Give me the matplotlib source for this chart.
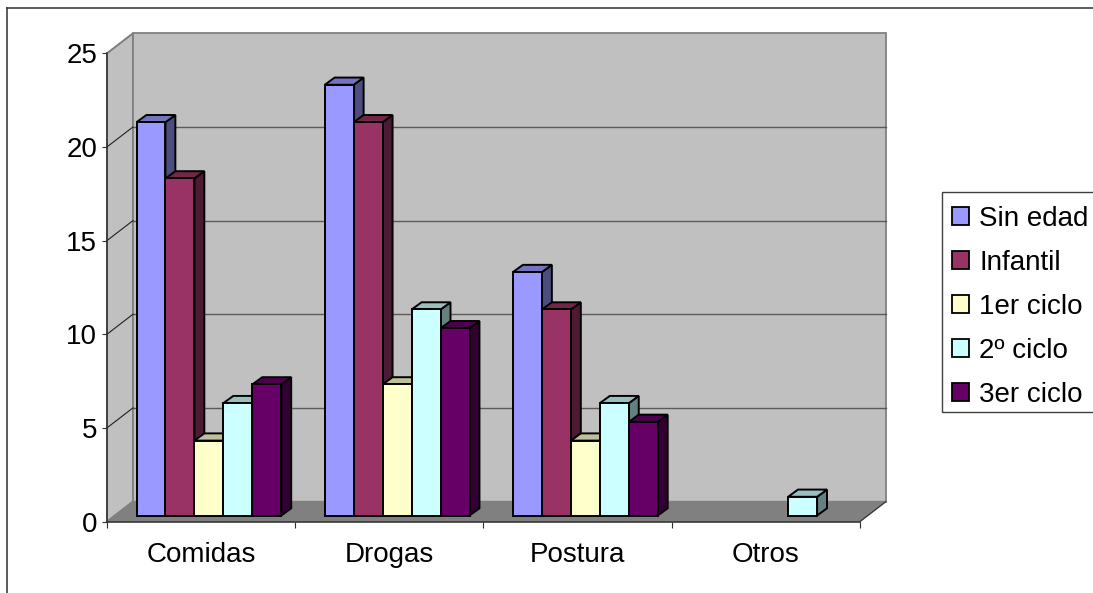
import matplotlib
matplotlib.use("Agg")
import matplotlib.pyplot as plt
from matplotlib.patches import Polygon, Patch, Rectangle
from matplotlib.lines import Line2D

categories = ["Comidas", "Drogas", "Postura", "Otros"]
series_names = ["Sin edad", "Infantil", "1er ciclo", "2º ciclo", "3er ciclo"]
sin_edad = [21, 23, 13, 0]
infantil = [18, 21, 11, 0]
primer_ciclo = [4, 7, 4, 0]
segundo_ciclo = [6, 11, 6, 1]
tercer_ciclo = [7, 10, 5, 0]
series = [sin_edad, infantil, primer_ciclo, segundo_ciclo, tercer_ciclo]
front_colors = ["#9999FF", "#993366", "#FFFFCC", "#CCFFFF", "#660066"]
top_colors = ["#7373BF", "#732645", "#BFBF99", "#99BFBF", "#4D004D"]
side_colors = ["#4D4D80", "#4D1A33", "#808066", "#668080", "#330033"]
y_ticks = [0, 5, 10, 15, 20, 25]

W, H = 1093, 593
FS = 20
plt.rcParams["font.family"] = ["Liberation Sans", "DejaVu Sans"]
fig = plt.figure(figsize=(W / 100, H / 100), dpi=100, facecolor="white")

# Front plane of the pseudo-3D plot, in pixels
L, R, T, B = 107, 860, 53.3, 521.5
ax = fig.add_axes([L / W, 1 - B / H, (R - L) / W, (B - T) / H])
ax.set_xlim(0, len(categories))
ax.set_ylim(0, 25)
ax.patch.set_visible(False)

unit_x = (R - L) / len(categories)
unit_y = (B - T) / 25
DX = 26 / unit_x   # full depth in data units
DY = 20 / unit_y


def poly(pts, fc, ec, lw, z):
    ax.add_patch(Polygon(pts, closed=True, facecolor=fc, edgecolor=ec, linewidth=lw,
                         joinstyle="miter", clip_on=False, zorder=z))


n_cat = len(categories)
# Walls and floor
poly([(0, 0), (DX, DY), (DX, 25 + DY), (0, 25)], "#C0C0C0", "#808080", 1.3, 1)
poly([(DX, DY), (n_cat + DX, DY), (n_cat + DX, 25 + DY), (DX, 25 + DY)], "#C0C0C0", "#808080", 1.3, 1)
poly([(0, 0), (DX, DY), (n_cat + DX, DY), (n_cat, 0)], "#808080", "#808080", 1.0, 1)

# Gridlines
for v in y_ticks[1:-1]:
    ax.plot([DX, n_cat + DX], [v + DY, v + DY], color="#5A5A5A", lw=1.0, clip_on=False, zorder=2)
    ax.plot([0, DX], [v, v + DY], color="#202020", lw=0.8, clip_on=False, zorder=2)
ax.plot([0, DX], [25, 25 + DY], color="#808080", lw=1.1, clip_on=False, zorder=2)
ax.plot([n_cat, n_cat + DX], [0, DY], color="#303030", lw=0.8, clip_on=False, zorder=2)

# Bars
n_ser = len(series)
bar_w = 1 / (n_ser + 1.5)
gap = 0.75 * bar_w
off_x, off_y = 0.3 * DX, 0.3 * DY
dep_x, dep_y = 0.38 * DX, 0.36 * DY
EDGE = 1.4
z = 3
for c in range(n_cat):
    for s in range(n_ser):
        v = series[s][c]
        if v <= 0:
            continue
        x0 = c + off_x + gap + s * bar_w
        x1 = x0 + bar_w
        y0 = off_y
        y1 = off_y + v
        poly([(x1, y0), (x1 + dep_x, y0 + dep_y), (x1 + dep_x, y1 + dep_y), (x1, y1)],
             side_colors[s], "black", EDGE, z)
        poly([(x0, y1), (x0 + dep_x, y1 + dep_y), (x1 + dep_x, y1 + dep_y), (x1, y1)],
             top_colors[s], "black", EDGE, z)
        poly([(x0, y0), (x1, y0), (x1, y1), (x0, y1)], front_colors[s], "black", EDGE, z)
        z += 1

# Axes
for sp in ("top", "right"):
    ax.spines[sp].set_visible(False)
for sp in ("left", "bottom"):
    ax.spines[sp].set_color("#303030")
    ax.spines[sp].set_linewidth(1.1)
    ax.spines[sp].set_zorder(2.5)
ax.set_yticks(y_ticks)
ax.set_yticklabels([str(v) for v in y_ticks], fontsize=FS, color="black")
ax.tick_params(axis="y", length=3.5, width=0.8, color="#303030", pad=3.5)
ax.set_xticks(range(n_cat + 1))
ax.set_xticklabels([""] * (n_cat + 1))
ax.tick_params(axis="x", which="major", length=4.5, width=0.8, color="#303030")
ax.set_xticks([i + 0.5 for i in range(n_cat)], minor=True)
ax.set_xticklabels(categories, minor=True, fontsize=FS, color="black")
ax.tick_params(axis="x", which="minor", length=0, pad=14.5)

# Legend box (its right edge lies outside the picture)
fig.add_artist(Rectangle((942.3 / W, 1 - 411.7 / H), 200 / W, 219.7 / H,
                         transform=fig.transFigure, facecolor="white",
                         edgecolor="#404040", linewidth=1.0, zorder=5))
handles = [Patch(facecolor=c, edgecolor="black", linewidth=1.3) for c in front_colors]
leg = fig.legend(handles, series_names, loc="upper left",
                 bbox_to_anchor=(938.5 / W, 1 - 192 / H), bbox_transform=fig.transFigure,
                 fontsize=FS, frameon=False, borderpad=0.5, labelspacing=0.645,
                 handlelength=0.6, handleheight=0.6, handletextpad=0.36, borderaxespad=0)
leg.set_zorder(6)

# Outer chart frame (right and bottom edges lie outside the picture)
for xs, ys in [((6.5, 6.5), (7.5, H)), ((6.5, W), (7.5, 7.5))]:
    fig.add_artist(Line2D([x / W for x in xs], [1 - y / H for y in ys],
                          color="#303030", lw=1.1, transform=fig.transFigure))

fig.savefig("out.png", dpi=100)
